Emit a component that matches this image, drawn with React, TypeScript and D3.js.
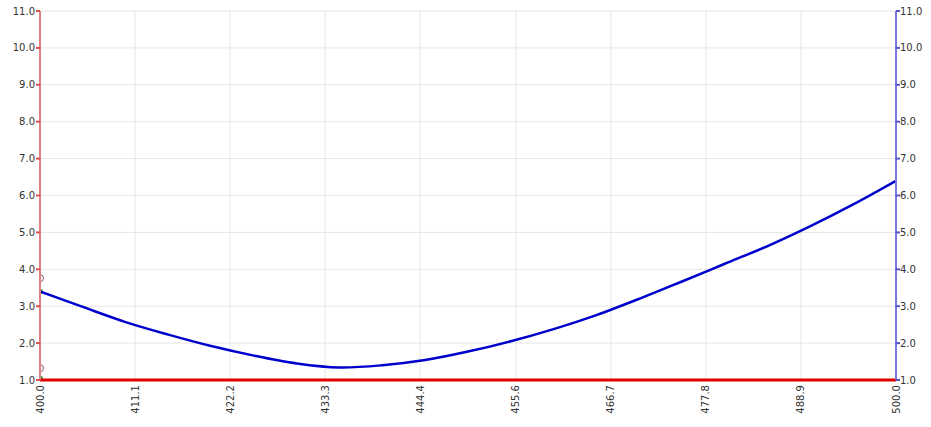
import React from "react";
import * as d3 from "d3";

const wavelengths = [400, 405, 410, 415, 420, 425, 430, 435, 440, 445, 450, 455, 460, 465, 470, 475, 480, 485, 490, 495, 500];
const blueValues = [3.4, 2.98, 2.57, 2.23, 1.92, 1.66, 1.45, 1.34, 1.4, 1.54, 1.77, 2.05, 2.38, 2.76, 3.2, 3.67, 4.15, 4.63, 5.17, 5.76, 6.4];
const redValues = [1, 1];
const redX = [400, 500];
const redMarkers = [3.76, 1.32];
const greenMarkers = [3.4, 1.05];
const xTicks = [400.0, 411.1, 422.2, 433.3, 444.4, 455.6, 466.7, 477.8, 488.9, 500.0];
const yTicks = [1, 2, 3, 4, 5, 6, 7, 8, 9, 10, 11];

const W = 931, H = 427;
const left = 40, right = 896, top = 11, bottom = 380;

export default function App() {
  const x = d3.scaleLinear().domain([400, 500]).range([left, right]);
  const y = d3.scaleLinear().domain([1, 11]).range([bottom, top]);
  const line = d3.line<[number, number]>().x(d => x(d[0])).y(d => y(d[1])).curve(d3.curveCatmullRom.alpha(0.5));
  const bluePath = line(wavelengths.map((w, i) => [w, blueValues[i]]))!;
  const redPath = d3.line<[number, number]>().x(d => x(d[0])).y(d => y(d[1]))(redX.map((w, i) => [w, redValues[i]]))!;
  const font = "'DejaVu Sans', Verdana, sans-serif";
  return (
    <svg width={W} height={H} style={{ position: "absolute", left: 0, top: 0, background: "#fff" }}>
      <defs>
        <clipPath id="plot">
          <rect x={left} y={top - 2} width={right - left} height={bottom - top + 4} />
        </clipPath>
      </defs>
      {xTicks.map(t => (
        <line key={"gx" + t} x1={x(t)} x2={x(t)} y1={top} y2={bottom} stroke="#e6e6e6" strokeWidth={1} />
      ))}
      {yTicks.map(t => (
        <line key={"gy" + t} x1={left} x2={right} y1={y(t)} y2={y(t)} stroke="#e6e6e6" strokeWidth={1} />
      ))}
      <g clipPath="url(#plot)">
        {redMarkers.map((v, i) => (
          <circle key={"rm" + i} cx={x(400)} cy={y(v)} r={3.5} fill="none" stroke="#905070" strokeWidth={1} />
        ))}
        {greenMarkers.map((v, i) => (
          <circle key={"gm" + i} cx={x(400) + 0.5} cy={y(v)} r={2.5} fill="#30a030" />
        ))}
        <path d={redPath} fill="none" stroke="#e00000" strokeWidth={3} />
        <path d={bluePath} fill="none" stroke="#0000cc" strokeWidth={2.5} />
      </g>
      <line x1={left} x2={left} y1={top} y2={bottom} stroke="#e08080" strokeWidth={2} />
      <line x1={right} x2={right} y1={top} y2={bottom} stroke="#7777dd" strokeWidth={2} />
      {yTicks.map(t => (
        <g key={"ly" + t}>
          <line x1={left - 4} x2={left} y1={y(t)} y2={y(t)} stroke="#e05050" strokeWidth={2} />
          <text x={left - 5} y={y(t)} dy="0.35em" textAnchor="end" fontFamily={font} fontSize={10} fill="#333">{t.toFixed(1)}</text>
          <line x1={right} x2={right + 4} y1={y(t)} y2={y(t)} stroke="#5555cc" strokeWidth={2} />
          <text x={right + 4} y={y(t)} dy="0.35em" textAnchor="start" fontFamily={font} fontSize={10} fill="#333">{t.toFixed(1)}</text>
        </g>
      ))}
      {xTicks.map(t => (
        <text key={"lx" + t} transform={`translate(${x(t)},${bottom + 5}) rotate(-90)`} dy="0.35em" textAnchor="end" fontFamily={font} fontSize={10} fill="#333">{t.toFixed(1)}</text>
      ))}
    </svg>
  );
}
